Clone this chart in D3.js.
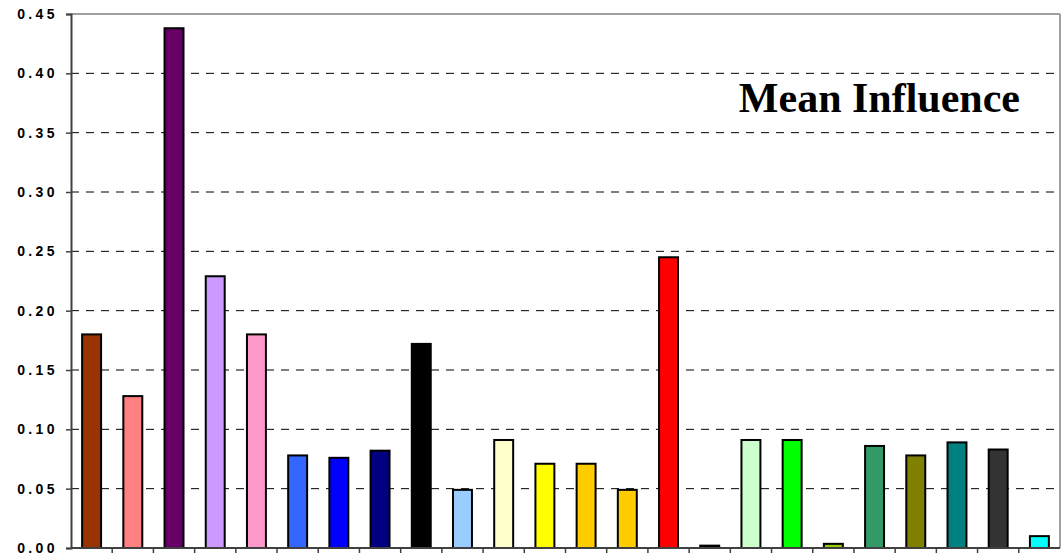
<!DOCTYPE html>
<html>
<head>
<meta charset="utf-8">
<script src="https://cdn.jsdelivr.net/npm/d3@7"></script>
<style>
  html, body { margin: 0; padding: 0; background: #fff; }
  svg { display: block; }
</style>
</head>
<body>
<svg id="chart" width="1061" height="555"></svg>
<script>
// Mean influence per factor, one bar each
const categories = ["F1","F2","F3","F4","F5","F6","F7","F8","F9","F10","F11","F12",
                    "F13","F14","F15","F16","F17","F18","F19","F20","F21","F22","F23","F24"];
const meanInfluence = [0.180, 0.128, 0.438, 0.229, 0.180, 0.078, 0.076, 0.082, 0.172, 0.049, 0.091, 0.071,
                       0.071, 0.049, 0.245, 0.002, 0.091, 0.091, 0.0035, 0.086, 0.078, 0.089, 0.083, 0.010];
const barColors = ["#993300","#FF8080","#660066","#CC99FF","#FF99CC","#3366FF","#0000FF","#000080",
                   "#000000","#99CCFF","#FFFFCC","#FFFF00","#FFCC00","#FFCC00","#FF0000","#000000",
                   "#CCFFCC","#00FF00","#99CC00","#339966","#808000","#008080","#333333","#00FFFF"];
const yTicks = [0, 0.05, 0.10, 0.15, 0.20, 0.25, 0.30, 0.35, 0.40, 0.45];
const chartTitle = "Mean Influence";

const svg = d3.select("#chart");
const plotLeft = 71, plotRight = 1060, plotTop = 14, plotBottom = 548;

const x = d3.scaleBand().domain(categories).range([plotLeft, plotRight]).paddingInner(0.54).paddingOuter(0.27);
const y = d3.scaleLinear().domain([0, 0.45]).range([plotBottom, plotTop]);

// dashed horizontal gridlines
svg.append("g")
  .selectAll("line")
  .data(yTicks.filter(t => t > 0 && t < 0.45))
  .join("line")
  .attr("x1", plotLeft).attr("x2", plotRight)
  .attr("y1", d => y(d)).attr("y2", d => y(d))
  .attr("stroke", "#000").attr("stroke-width", 1)
  .attr("stroke-dasharray", "8,7");

// plot frame: top and right edges in grey
svg.append("line").attr("x1", plotLeft).attr("x2", plotRight).attr("y1", plotTop).attr("y2", plotTop)
  .attr("stroke", "#a0a0a0").attr("stroke-width", 2);
svg.append("line").attr("x1", plotRight).attr("x2", plotRight).attr("y1", plotTop).attr("y2", plotBottom)
  .attr("stroke", "#a0a0a0").attr("stroke-width", 2);

// bars
svg.append("g")
  .selectAll("rect")
  .data(categories)
  .join("rect")
  .attr("x", d => x(d))
  .attr("width", x.bandwidth())
  .attr("y", (d, i) => y(meanInfluence[i]))
  .attr("height", (d, i) => plotBottom - y(meanInfluence[i]))
  .attr("fill", (d, i) => barColors[i])
  .attr("stroke", "#000").attr("stroke-width", 2);

// y axis
const yAxis = d3.axisLeft(y).tickValues(yTicks).tickSize(5).tickPadding(8)
  .tickFormat(d3.format(".2f"));
const gy = svg.append("g").attr("transform", `translate(${plotLeft},0)`).call(yAxis);
gy.select(".domain").attr("stroke", "#404040").attr("stroke-width", 2);
gy.selectAll(".tick line").attr("stroke", "#404040").attr("stroke-width", 1.5);
gy.selectAll(".tick text")
  .attr("fill", "#000")
  .style("font-family", "Arial, 'Liberation Sans', sans-serif")
  .style("font-weight", "bold")
  .style("font-size", "14px")
  .style("letter-spacing", "3.4px");

// x axis: ticks between categories, no labels
const boundaries = d3.range(categories.length + 1)
  .map(i => plotLeft + i * (plotRight - plotLeft) / categories.length);
svg.append("line").attr("x1", plotLeft).attr("x2", plotRight).attr("y1", plotBottom).attr("y2", plotBottom)
  .attr("stroke", "#404040").attr("stroke-width", 2);
svg.append("g")
  .selectAll("line")
  .data(boundaries.slice(1, -1))
  .join("line")
  .attr("x1", d => d).attr("x2", d => d)
  .attr("y1", plotBottom).attr("y2", plotBottom + 5)
  .attr("stroke", "#404040").attr("stroke-width", 1.5);

// title inside the plot
svg.append("text")
  .attr("x", 1020).attr("y", 112)
  .attr("text-anchor", "end")
  .style("font-family", "'Liberation Serif', 'Times New Roman', serif")
  .style("font-weight", "bold")
  .style("font-size", "42px")
  .text(chartTitle);
</script>
</body>
</html>
